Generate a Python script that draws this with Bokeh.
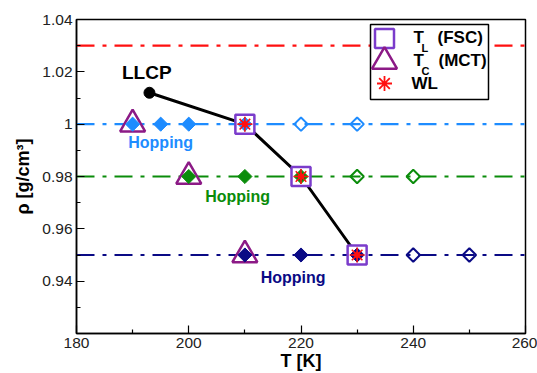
import numpy as np
from bokeh.plotting import figure
from bokeh.models import Range1d, FixedTicker, NumeralTickFormatter, Label
from bokeh.core.properties import value
from bokeh.embed import file_html
from bokeh.resources import INLINE

# ---- data -------------------------------------------------------------
T_MIN, T_MAX = 180, 260
RHO_MIN, RHO_MAX = 0.92, 1.04

x_ticks = [180, 200, 220, 240, 260]
x_minor = [190, 210, 230, 250]
y_ticks = [0.94, 0.96, 0.98, 1.0, 1.02, 1.04]
y_minor = [0.93, 0.95, 0.97, 0.99, 1.01, 1.03]

# isochores (density levels) and their colours
rho_red = 1.03
rho_blue, rho_green, rho_navy = 1.00, 0.98, 0.95

# simulated state points: filled = diffusive, open = arrested
blue_filled_T = [190, 195, 200, 210]
blue_open_T = [220, 230]
green_filled_T = [200, 210, 220]
green_open_T = [230, 240]
navy_filled_T = [210, 220, 230]
navy_open_T = [240, 250]

# liquid-liquid critical point and the line through T_L
llcp_T, llcp_rho = 193, 1.012
tl_line_T = [193, 210, 220, 230]
tl_line_rho = [1.012, 1.00, 0.98, 0.95]

# T_L (FSC), T_C (MCT) and WL estimates
fsc_T = [210, 220, 230]
fsc_rho = [1.00, 0.98, 0.95]
mct_T = [190, 200, 210]
mct_rho = [1.00, 0.98, 0.95]
wl_T = [210, 220, 230]
wl_rho = [1.00, 0.98, 0.95]

# ---- styling ----------------------------------------------------------
FONT = "Liberation Sans"
BLUE = "#1E8CFF"
GREEN = "#0A8C0A"
NAVY = "#0A0A85"
RED = "#FF1010"
TRI = "#8C1A86"
SQR = "#7B3CCB"
DASH = "18 8 4 8"

W, H = 537, 373
LEFT, RIGHT, TOP, BOTTOM = 76, 12, 19, 40
FW, FH = W - LEFT - RIGHT, H - TOP - BOTTOM

p = figure(width=W, height=H, output_backend="svg", toolbar_location=None,
           x_range=Range1d(T_MIN, T_MAX), y_range=Range1d(RHO_MIN, RHO_MAX),
           min_border_left=LEFT, min_border_right=RIGHT,
           min_border_top=TOP, min_border_bottom=BOTTOM)
p.background_fill_color = "white"
p.border_fill_color = "white"
p.xgrid.visible = False
p.ygrid.visible = False
p.outline_line_color = "black"
p.outline_line_width = 1.5

# frame-pixel ranges for the key box (y grows downwards from frame top)
p.extra_x_ranges = {"px": Range1d(0, FW)}
p.extra_y_ranges = {"px": Range1d(FH, 0)}

# axes
p.xaxis.ticker = FixedTicker(ticks=x_ticks, minor_ticks=x_minor)
p.yaxis.ticker = FixedTicker(ticks=y_ticks, minor_ticks=y_minor)
p.yaxis.formatter = NumeralTickFormatter(format="0.[00]")
for ax in (p.xaxis[0], p.yaxis[0]):
    ax.axis_line_width = 1.5
    ax.major_tick_in = 8
    ax.major_tick_out = 0
    ax.minor_tick_in = 4
    ax.minor_tick_out = 0
    ax.major_tick_line_width = 1.2
    ax.minor_tick_line_width = 1.2
    ax.major_label_text_font = FONT
    ax.major_label_text_font_size = "15.5px"
    ax.major_label_text_color = "#222222"
    ax.axis_label_text_font = FONT
    ax.axis_label_text_font_style = "bold"
    ax.axis_label_text_font_size = "18px"
    ax.axis_label_text_color = "black"
p.xaxis.axis_label = "T [K]"
p.yaxis.axis_label = "ρ [g/cm³]"
p.xaxis.major_label_standoff = 4
p.xaxis.axis_label_standoff = 0
p.yaxis.major_label_standoff = 4
p.yaxis.axis_label_standoff = 6

# dash-dot isochores across the full temperature window
for rho, col in ((rho_red, RED), (rho_blue, BLUE), (rho_green, GREEN), (rho_navy, NAVY)):
    p.segment(x0=[T_MIN], x1=[T_MAX], y0=[rho], y1=[rho],
              line_color=col, line_width=2.2, line_dash=DASH)

# line from the LLCP through T_L points
p.line(tl_line_T, tl_line_rho, line_color="black", line_width=3)
p.scatter([llcp_T], [llcp_rho], marker="circle", size=11,
          fill_color="black", line_color="black")

# open diamonds
for Ts, rho, col in ((blue_open_T, rho_blue, BLUE), (green_open_T, rho_green, GREEN),
                     (navy_open_T, rho_navy, NAVY)):
    p.scatter(Ts, [rho] * len(Ts), marker="square", angle=np.pi / 4, size=9.5,
              fill_color=None, line_color=col, line_width=2)

# T_C (MCT) triangles and T_L (FSC) squares
p.scatter(mct_T, mct_rho, marker="triangle", size=25, fill_color="white",
          line_color=TRI, line_width=2.5)
p.scatter(fsc_T, fsc_rho, marker="square", size=19, fill_color="white",
          line_color=SQR, line_width=2.5)

# filled diamonds
for Ts, rho, col in ((blue_filled_T, rho_blue, BLUE), (green_filled_T, rho_green, GREEN),
                     (navy_filled_T, rho_navy, NAVY)):
    p.scatter(Ts, [rho] * len(Ts), marker="square", angle=np.pi / 4, size=10,
              fill_color=col, line_color=col, line_width=1)

# WL estimates
p.scatter(wl_T, wl_rho, marker="square", angle=np.pi / 4, size=5,
          fill_color=RED, line_color=RED)
p.scatter(wl_T, wl_rho, marker="asterisk", size=15, line_color=RED, line_width=1.6)

# ---- key box (frame pixel units) --------------------------------------
p.quad(left=[294], right=[412], top=[5], bottom=[80], x_range_name="px", y_range_name="px",
       fill_color="white", line_color="black", line_width=1.5)
p.scatter([308], [19], marker="square", size=19, fill_color="white", line_color=SQR,
          line_width=2.5, x_range_name="px", y_range_name="px")
p.scatter([308], [42], marker="triangle", size=25, fill_color="white", line_color=TRI,
          line_width=2.5, x_range_name="px", y_range_name="px")
p.scatter([308], [64], marker="asterisk", size=15, line_color=RED,
          line_width=1.8, x_range_name="px", y_range_name="px")

key_font = dict(text_font=value(FONT), text_font_style="bold", text_color="black",
                x_range_name="px", y_range_name="px")
p.text(x=[337, 337, 335], y=[18, 41, 64], text=["T", "T", "WL"],
       text_font_size="17px", text_baseline="middle", text_align="left", **key_font)
p.text(x=[345, 345], y=[28, 51], text=["L", "C"],
       text_font_size="11px", text_baseline="middle", text_align="left", **key_font)
p.text(x=[361, 362], y=[18, 41], text=["(FSC)", "(MCT)"],
       text_font_size="17px", text_baseline="middle", text_align="left", **key_font)

# ---- annotations ------------------------------------------------------
p.add_layout(Label(x=188.1, y=1.0197, text="LLCP", text_font=FONT,
                   text_font_style="bold", text_font_size="19px", text_color="black",
                   text_baseline="middle", text_align="left"))
for tx, ty, col in ((195.0, 0.9929, BLUE), (208.7, 0.9725, GREEN), (218.6, 0.9415, NAVY)):
    p.add_layout(Label(x=tx, y=ty, text="Hopping", text_font=FONT,
                       text_font_style="bold", text_font_size="16px", text_color=col,
                       text_baseline="middle", text_align="center"))

open("out.html", "w").write(file_html(p, INLINE))
